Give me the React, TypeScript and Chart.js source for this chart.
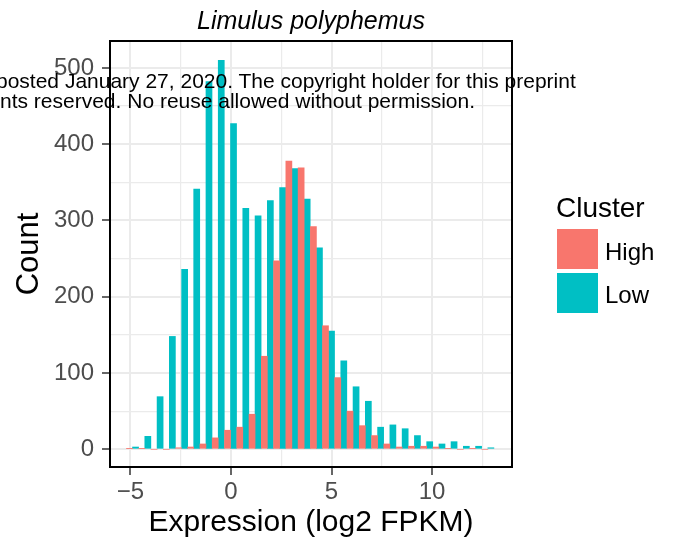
import React, { useEffect, useRef } from 'react';
import { Chart, registerables } from 'chart.js';

Chart.register(...registerables);

// Bin centres (log2 FPKM) of the 30-bin histogram
const binCenters = [
  -4.89, -4.28, -3.67, -3.06, -2.45, -1.85, -1.24, -0.63, -0.02, 0.59,
  1.2, 1.81, 2.42, 3.03, 3.64, 4.25, 4.85, 5.46, 6.07, 6.68,
  7.29, 7.9, 8.51, 9.12, 9.73, 10.34, 10.94, 11.55, 12.16, 12.77,
];

// Counts for cluster "High"
const highCounts = [
  1, 1, 0, 0, 2, 3, 7, 15, 25, 29,
  46, 122, 247, 378, 369, 292, 162, 94, 50, 31,
  18, 7, 3, 4, 4, 3, 1, 0, 1, 0,
];

// Counts for cluster "Low"
const lowCounts = [
  3, 17, 69, 148, 236, 341, 482, 510, 427, 316,
  306, 326, 343, 368, 328, 264, 155, 116, 82, 63,
  29, 32, 27, 18, 10, 7, 10, 4, 4, 2,
];

const seriesNames = ['High', 'Low'];
const seriesColors = ['#F8766D', '#00BFC4'];

const xGridValues = [-5, -2.5, 0, 2.5, 5, 7.5, 10, 12.5];
const xTickLabels = [-5, 0, 5, 10];
const yGridValues = [0, 50, 100, 150, 200, 250, 300, 350, 400, 450, 500];
const yTickLabels = [0, 100, 200, 300, 400, 500];

const xRange = [-6.01, 13.97];
const yRange = [-23.2, 535.3];

const titleText = 'Limulus polyphemus';
const xTitle = 'Expression (log2 FPKM)';
const yTitle = 'Count';
const legendTitle = 'Cluster';
const watermarkLines = [
  'posted January 27, 2020. The copyright holder for this preprint',
  'nts reserved. No reuse allowed without permission.',
];

const FONT = "'Liberation Sans', Arial, Helvetica, sans-serif";

const panelBorder = {
  id: 'panelBorder',
  afterDatasetsDraw(chart: any) {
    const { ctx, chartArea: a } = chart;
    ctx.save();
    ctx.strokeStyle = '#000000';
    ctx.lineWidth = 2;
    ctx.strokeRect(a.left, a.top, a.right - a.left, a.bottom - a.top);
    ctx.restore();
  },
};

const fmt = (v: number) => String(v).replace('-', '\u2212');

export default function App() {
  const canvasRef = useRef<HTMLCanvasElement | null>(null);

  useEffect(() => {
    const canvas = canvasRef.current;
    if (!canvas) return;
    const chart = new Chart(canvas, {
      type: 'bar',
      data: {
        datasets: [
          {
            label: seriesNames[0],
            data: binCenters.map((x, i) => ({ x, y: highCounts[i] })),
            backgroundColor: seriesColors[0],
            borderWidth: 0,
            categoryPercentage: 1,
            barPercentage: 1,
          },
          {
            label: seriesNames[1],
            data: binCenters.map((x, i) => ({ x, y: lowCounts[i] })),
            backgroundColor: seriesColors[1],
            borderWidth: 0,
            categoryPercentage: 1,
            barPercentage: 1,
          },
        ],
      },
      options: {
        animation: false,
        responsive: false,
        maintainAspectRatio: false,
        devicePixelRatio: 1,
        layout: { padding: { left: 0, right: 161, top: 0, bottom: 0 } },
        plugins: {
          legend: { display: false },
          tooltip: { enabled: false },
          title: {
            display: true,
            text: titleText,
            fullSize: false,
            color: '#000000',
            font: { family: FONT, size: 25, style: 'italic', weight: 'normal', lineHeight: 1.2 },
            padding: { top: 7, bottom: 4 },
          },
        },
        scales: {
          x: {
            type: 'linear',
            min: xRange[0],
            max: xRange[1],
            offset: false,
            afterBuildTicks: (scale: any) => {
              scale.ticks = xGridValues.map((v) => ({ value: v }));
            },
            afterFit: (scale: any) => {
              scale.height = 84;
            },
            border: { display: false },
            grid: {
              offset: false,
              color: '#EBEBEB',
              lineWidth: (c: any) => (xTickLabels.includes(c.tick?.value) ? 2 : 1.2),
              tickLength: 8,
              tickWidth: 1.5,
              tickColor: (c: any) => (xTickLabels.includes(c.tick?.value) ? '#333333' : 'rgba(0,0,0,0)'),
            },
            ticks: {
              autoSkip: false,
              maxRotation: 0,
              padding: 3,
              color: '#4D4D4D',
              font: { family: FONT, size: 24 },
              callback: (v: any) => (xTickLabels.includes(Number(v)) ? fmt(Number(v)) : ''),
            },
            title: {
              display: true,
              text: xTitle,
              color: '#000000',
              font: { family: FONT, size: 30, lineHeight: 1.2 },
              padding: { top: 0, bottom: 10 },
            },
          },
          y: {
            type: 'linear',
            min: yRange[0],
            max: yRange[1],
            afterBuildTicks: (scale: any) => {
              scale.ticks = yGridValues.map((v) => ({ value: v }));
            },
            afterFit: (scale: any) => {
              scale.width = 110;
            },
            border: { display: false },
            grid: {
              color: '#EBEBEB',
              lineWidth: (c: any) => (yTickLabels.includes(c.tick?.value) ? 2 : 1.2),
              tickLength: 8,
              tickWidth: 1.5,
              tickColor: (c: any) => (yTickLabels.includes(c.tick?.value) ? '#333333' : 'rgba(0,0,0,0)'),
            },
            ticks: {
              autoSkip: false,
              padding: 8,
              color: '#4D4D4D',
              font: { family: FONT, size: 24 },
              callback: (v: any) => (yTickLabels.includes(Number(v)) ? fmt(Number(v)) : ''),
            },
            title: {
              display: true,
              text: yTitle,
              color: '#000000',
              font: { family: FONT, size: 31, lineHeight: 1.2 },
              padding: { top: 10.5, bottom: 0 },
            },
          },
        },
      },
      plugins: [panelBorder],
    } as any);
    return () => chart.destroy();
  }, []);

  const text = (extra: React.CSSProperties): React.CSSProperties => ({
    position: 'absolute',
    fontFamily: FONT,
    whiteSpace: 'nowrap',
    color: '#000000',
    ...extra,
  });

  return (
    <div style={{ position: 'absolute', left: 0, top: 0, width: 673, height: 551, overflow: 'hidden', background: '#ffffff' }}>
      <canvas ref={canvasRef} width={673} height={551} style={{ display: 'block', width: 673, height: 551 }} />
      {/* Legend */}
      <div style={text({ left: 556, top: 193.6, fontSize: 28, lineHeight: '28px' })}>{legendTitle}</div>
      <div style={{ position: 'absolute', left: 557, top: 229, width: 41, height: 40, background: seriesColors[0] }} />
      <div style={{ position: 'absolute', left: 557, top: 273, width: 41, height: 40, background: seriesColors[1] }} />
      <div style={text({ left: 605, top: 239.7, fontSize: 24, lineHeight: '24px' })}>{seriesNames[0]}</div>
      <div style={text({ left: 605, top: 283, fontSize: 24, lineHeight: '24px' })}>{seriesNames[1]}</div>
      {/* Preprint watermark overlay */}
      <div style={text({ left: -4, top: 69.5, fontSize: 21, lineHeight: '21px' })}>{watermarkLines[0]}</div>
      <div style={text({ left: 0, top: 90, fontSize: 21, lineHeight: '21px' })}>{watermarkLines[1]}</div>
    </div>
  );
}
